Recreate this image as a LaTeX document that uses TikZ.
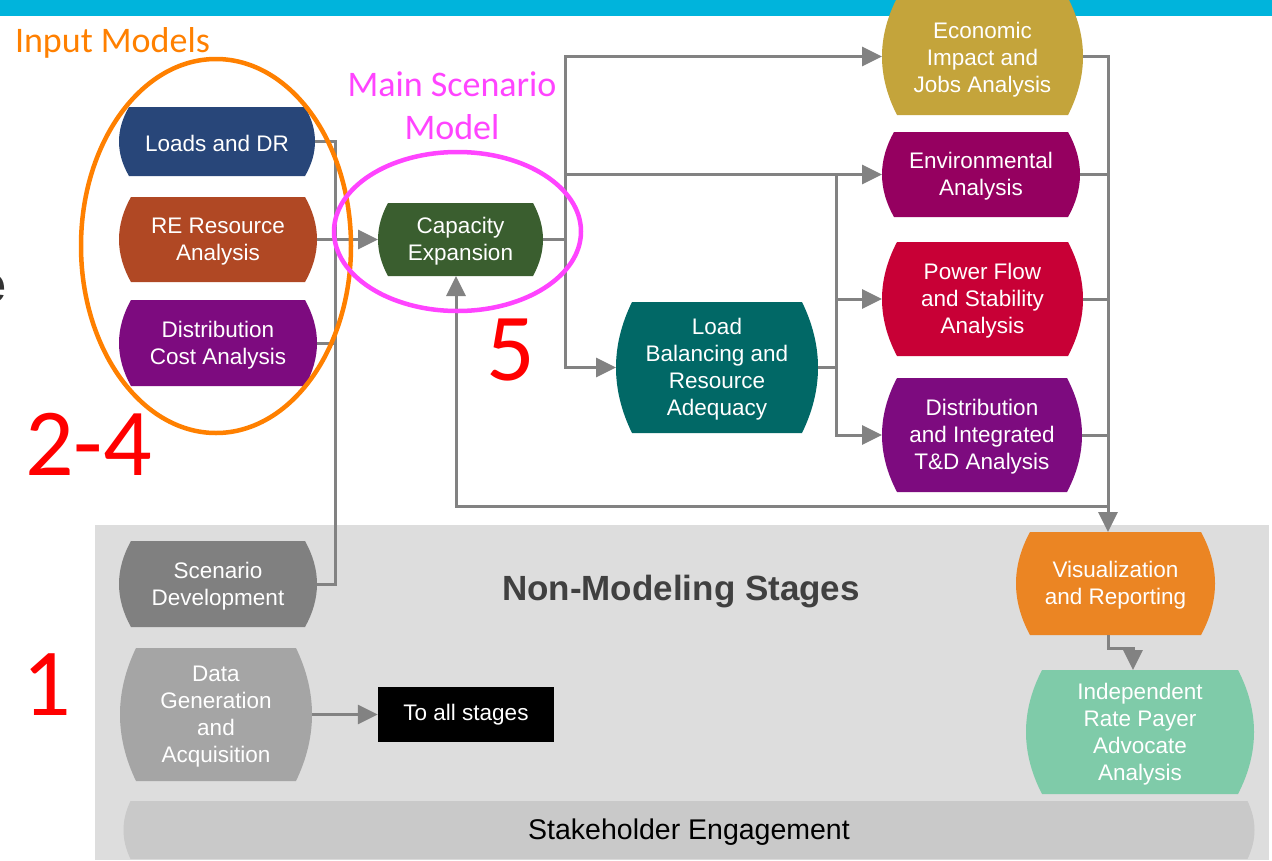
\documentclass[tikz,border=0pt]{standalone}
\usepackage{fontspec}
\setmainfont{Liberation Sans}
\newfontfamily\carl{Carlito}
\usetikzlibrary{arrows.meta,calc}
\definecolor{cyanbar}{HTML}{00B4DC}
\definecolor{nmbg}{HTML}{DDDDDD}
\definecolor{lineg}{HTML}{828282}
\definecolor{cLoads}{HTML}{284679}
\definecolor{cRE}{HTML}{B04824}
\definecolor{cPurp}{HTML}{7D0B7F}
\definecolor{cCap}{HTML}{3A5E2F}
\definecolor{cEcon}{HTML}{C4A43B}
\definecolor{cEnv}{HTML}{950060}
\definecolor{cPow}{HTML}{C80036}
\definecolor{cLB}{HTML}{016866}
\definecolor{cScen}{HTML}{808080}
\definecolor{cData}{HTML}{A5A5A5}
\definecolor{cVis}{HTML}{EB8523}
\definecolor{cInd}{HTML}{7FCBA9}
\definecolor{cStake}{HTML}{C9C9C9}
\definecolor{orangeE}{HTML}{FF8000}
\definecolor{magE}{HTML}{FF44FF}
\definecolor{darkT}{HTML}{404040}
\definecolor{cutT}{HTML}{333333}
% #1 optional text style, #2 name, #3 cx, #4 cy, #5 w, #6 h, #7 bulge, #8 colour, #9 text
\newcommand{\barrel}[9][]{%
  \fill[#8] ({#3-#5/2+#7},{#4-#6/2}) -- ({#3+#5/2-#7},{#4-#6/2})
    .. controls ({#3+#5/2-#7/3},{#4-#6/3}) and ({#3+#5/2},{#4-#6/6}) .. ({#3+#5/2},{#4})
    .. controls ({#3+#5/2},{#4+#6/6}) and ({#3+#5/2-#7/3},{#4+#6/3}) .. ({#3+#5/2-#7},{#4+#6/2})
    -- ({#3-#5/2+#7},{#4+#6/2})
    .. controls ({#3-#5/2+#7/3},{#4+#6/3}) and ({#3-#5/2},{#4+#6/6}) .. ({#3-#5/2},{#4})
    .. controls ({#3-#5/2},{#4-#6/6}) and ({#3-#5/2+#7/3},{#4-#6/3}) .. cycle;
  \node[ntext, minimum width=#5, minimum height=#6] (#2) at (#3,#4) {};
  \node[ntext, #1] (#2t) at (#3,{#4+2}) {#9};
}
\begin{document}
\begin{tikzpicture}[x=1pt,y=-1pt,
  conn/.style={draw=lineg, line width=3pt},
  arr/.style={conn, -{Triangle[length=20pt,width=19pt]}},
  ntext/.style={shape=rectangle, inner sep=0pt, outer sep=0pt, text=white, align=center,
    font=\fontsize{22.5}{27}\selectfont},
  lab/.style={inner sep=0pt, outer sep=0pt},
  redno/.style={lab, text=red, font=\carl\fontsize{96}{100}\selectfont, anchor=base west}]
\useasboundingbox (0,0) rectangle (1272,860);
\fill[white] (0,0) rectangle (1272,860);
\fill[cyanbar] (0,0) rectangle (1272,16);
\fill[nmbg] (95,525) rectangle (1269,860);
\node[lab, text=cutT, font=\bfseries\fontsize{52}{56}\selectfont, anchor=base west] (cut) at (-22,302) {e};

% nodes
\barrel{loads}{217}{141.5}{196}{69}{10}{cLoads}{Loads and DR}
\barrel{re}{218}{239.5}{198}{85}{12}{cRE}{RE Resource\\Analysis}
\barrel{dcost}{218}{343}{198}{86}{12}{cPurp}{Distribution\\Cost Analysis}
\barrel{cap}{460.5}{239.5}{165}{73}{10}{cCap}{Capacity\\Expansion}
\barrel[yshift=-1pt]{econ}{982.5}{56.5}{201}{117}{15}{cEcon}{Economic\\Impact and\\Jobs Analysis}
\barrel{env}{981}{174.5}{198}{85}{12}{cEnv}{Environmental\\Analysis}
\barrel{power}{982.5}{299}{201}{114}{15}{cPow}{Power Flow\\and Stability\\Analysis}
\barrel{dint}{982}{435}{200}{114}{15}{cPurp}{Distribution\\and Integrated\\T\&D Analysis}
\barrel{lb}{717}{367.5}{202}{131}{16}{cLB}{Load\\Balancing and\\Resource\\Adequacy}
\barrel{scen}{218}{584}{198}{86}{12}{cScen}{Scenario\\Development}
\barrel{data}{216}{714.5}{192}{133}{16}{cData}{Data\\Generation\\and\\Acquisition}
\barrel{vis}{1115.5}{583.5}{199}{103}{14}{cVis}{Visualization\\and Reporting}
\barrel{ind}{1140}{732}{228}{124}{16}{cInd}{Independent\\Rate Payer\\Advocate\\Analysis}
\barrel[text=black, font=\fontsize{28.5}{30}\selectfont]{stake}{689}{830}{1131}{58}{7}{cStake}{Stakeholder Engagement}
\node[shape=rectangle, fill=black, text=white, inner sep=0pt, minimum width=176, minimum height=55,
  font=\fontsize{22.5}{27}\selectfont] (tall) at (466,714.5) {To all stages};
\node[lab, text=darkT, font=\bfseries\fontsize{35}{40}\selectfont] (nms) at (681,592) {Non-Modeling Stages};

% connectors
\coordinate (busL) at (335,584);
\draw[conn] (loads.east) -| (busL) -- (scen.east);
\draw[conn] (dcost.east) -- (dcost.east -| busL);
\draw[arr] (re.east) -- (cap.west);

\coordinate (busC) at (565,239.5);
\draw[conn] (cap.east) -- (busC);
\draw[arr] (busC) |- (econ.west);
\draw[arr] (busC) |- (lb.west);
\draw[arr] (env.west -| busC) -- (env.west);

\coordinate (busR) at (836,367.5);
\draw[conn] (lb.east) -- (busR);
\draw[arr] (env.west -| busR) |- (dint.west);
\draw[arr] (power.west -| busR) -- (power.west);

\coordinate (busV) at (1108,506);
\draw[conn] (econ.east) -| (busV);
\draw[conn] (env.east) -- (env.east -| busV);
\draw[conn] (power.east) -- (power.east -| busV);
\draw[conn] (dint.east) -- (dint.east -| busV);
\draw[arr] (busV) -- (busV |- vis.north);
\coordinate (fb) at (456,506);
\draw[arr] (busV) -- (fb) -- (fb |- cap.south);

\coordinate (vr) at (1108,648);
\coordinate (vr2) at (1133,648);
\draw[arr] (vr |- vis.south) -- (vr) -- (vr2) -- (vr2 |- ind.north);
\draw[arr] (data.east) -- (tall.west);

% ellipses and labels
\draw[orangeE, line width=4.5pt] (216,246) ellipse [x radius=135, y radius=187];
\draw[magE, line width=4.5pt] (457.5,231.5) ellipse [x radius=123.5, y radius=79.5];
\node[lab, text=orangeE, font=\carl\fontsize{36}{43}\selectfont, anchor=base west] (inlab) at (15,52) {Input Models};
\node[lab, text=magE, font=\carl\fontsize{36}{43}\selectfont, align=center, anchor=base] (mainlab) at (452,139) {Main Scenario\\Model};
\node[redno] (n24) at (25,475) {2-4};
\node[redno] (n5) at (486,380) {5};
\node[redno] (n1) at (22,715) {1};
\end{tikzpicture}
\end{document}
